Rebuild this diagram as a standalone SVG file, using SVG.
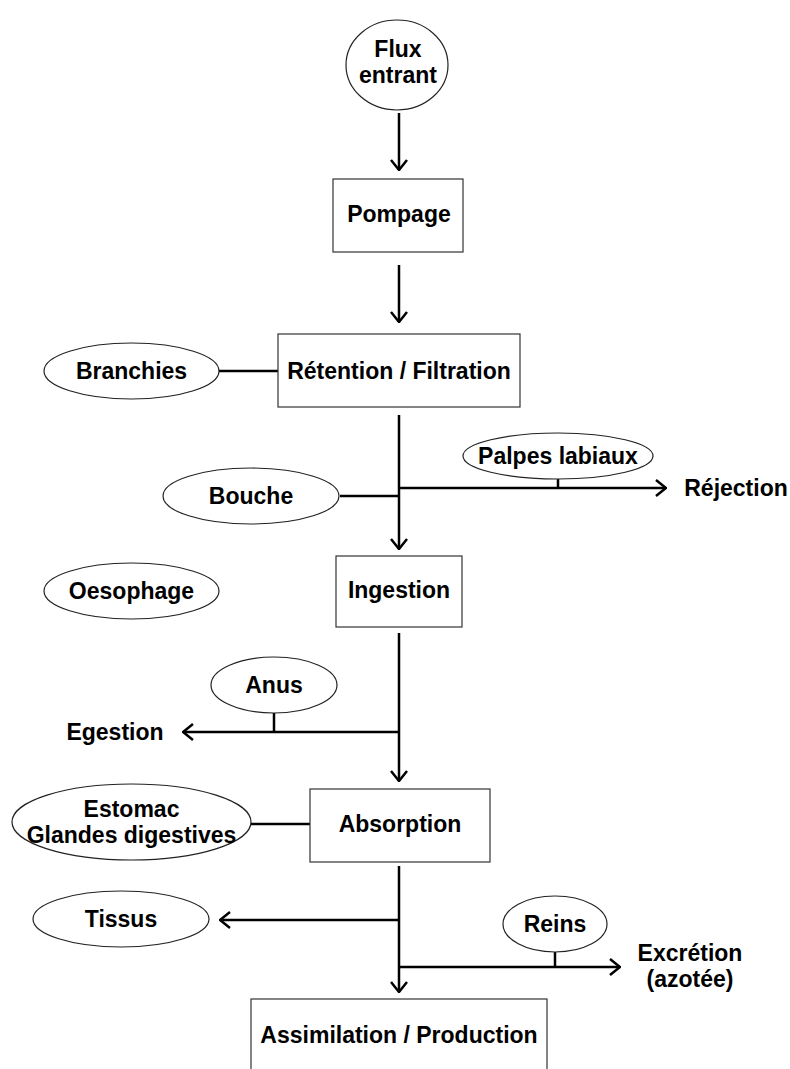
<svg xmlns="http://www.w3.org/2000/svg" width="790" height="1069" viewBox="0 0 790 1069">
<style>
.box{fill:#fff;stroke:#333;stroke-width:1.2}
.ell{fill:#fff;stroke:#222;stroke-width:1.2}
.t{font-family:"Liberation Sans",Arial,sans-serif;font-weight:bold;font-size:23px;fill:#000;text-anchor:middle}
.c{stroke:#000;stroke-width:2.5;fill:none}
.a{marker-end:url(#arr)}
</style>
<defs>
<marker id="arr" markerUnits="userSpaceOnUse" viewBox="0 0 12 18" refX="11" refY="9" markerWidth="12" markerHeight="18" orient="auto">
<path d="M1,1 L11,9 L1,17" fill="none" stroke="#000" stroke-width="2.5"/>
</marker>
</defs>
<rect width="790" height="1069" fill="#fff"/>
<g id="connectors">
<line class="c a" x1="399" y1="113" x2="399" y2="170"/>
<line class="c a" x1="399" y1="265" x2="399" y2="322"/>
<line class="c" x1="219" y1="371" x2="278" y2="371"/>
<line class="c a" x1="399" y1="415" x2="399" y2="549"/>
<line class="c" x1="340" y1="496" x2="399" y2="496"/>
<line class="c a" x1="399" y1="488" x2="666" y2="488"/>
<line class="c" x1="558" y1="478" x2="558" y2="488"/>
<line class="c a" x1="399" y1="633" x2="399" y2="781"/>
<line class="c a" x1="399" y1="732" x2="183" y2="732"/>
<line class="c" x1="274" y1="713" x2="274" y2="732"/>
<line class="c" x1="251" y1="824" x2="310" y2="824"/>
<line class="c a" x1="399" y1="866" x2="399" y2="992"/>
<line class="c a" x1="399" y1="920" x2="220" y2="920"/>
<line class="c a" x1="399" y1="967" x2="620" y2="967"/>
<line class="c" x1="555" y1="952" x2="555" y2="967"/>
</g>
<g id="flux"><ellipse class="ell" cx="397" cy="65" rx="51" ry="45"/><text class="t" x="398" y="57">Flux</text><text class="t" x="398" y="83">entrant</text></g>
<g id="pompage"><rect class="box" x="333" y="179" width="130" height="73"/><text class="t" x="399" y="222">Pompage</text></g>
<g id="retention"><rect class="box" x="278" y="334" width="242" height="73"/><text class="t" x="399" y="379">Rétention / Filtration</text></g>
<g id="branchies"><ellipse class="ell" cx="131.5" cy="371" rx="87.5" ry="28"/><text class="t" x="131.5" y="379">Branchies</text></g>
<g id="bouche"><ellipse class="ell" cx="251" cy="496" rx="88" ry="28"/><text class="t" x="251" y="504">Bouche</text></g>
<g id="palpes"><ellipse class="ell" cx="558" cy="456" rx="95" ry="23"/><text class="t" x="558" y="464">Palpes labiaux</text></g>
<g id="rejection"><text class="t" x="736" y="496">Réjection</text></g>
<g id="ingestion"><rect class="box" x="336" y="556" width="126" height="71"/><text class="t" x="399" y="598">Ingestion</text></g>
<g id="oesophage"><ellipse class="ell" cx="131.5" cy="591" rx="87.5" ry="28"/><text class="t" x="131.5" y="599">Oesophage</text></g>
<g id="anus"><ellipse class="ell" cx="274" cy="685" rx="63" ry="28"/><text class="t" x="274" y="693">Anus</text></g>
<g id="egestion"><text class="t" x="115" y="740">Egestion</text></g>
<g id="absorption"><rect class="box" x="310" y="789" width="180" height="73"/><text class="t" x="400" y="832">Absorption</text></g>
<g id="estomac"><ellipse class="ell" cx="131.5" cy="822" rx="119.5" ry="38"/><text class="t" x="131.5" y="817">Estomac</text><text class="t" x="131.5" y="843">Glandes digestives</text></g>
<g id="tissus"><ellipse class="ell" cx="121" cy="919" rx="88" ry="28"/><text class="t" x="121" y="927">Tissus</text></g>
<g id="reins"><ellipse class="ell" cx="555" cy="924" rx="52" ry="28"/><text class="t" x="555" y="932">Reins</text></g>
<g id="excretion"><text class="t" x="690" y="961">Excrétion</text><text class="t" x="690" y="987">(azotée)</text></g>
<g id="assimilation"><rect class="box" x="251" y="999" width="296" height="80"/><text class="t" x="399" y="1043">Assimilation / Production</text></g>
</svg>
